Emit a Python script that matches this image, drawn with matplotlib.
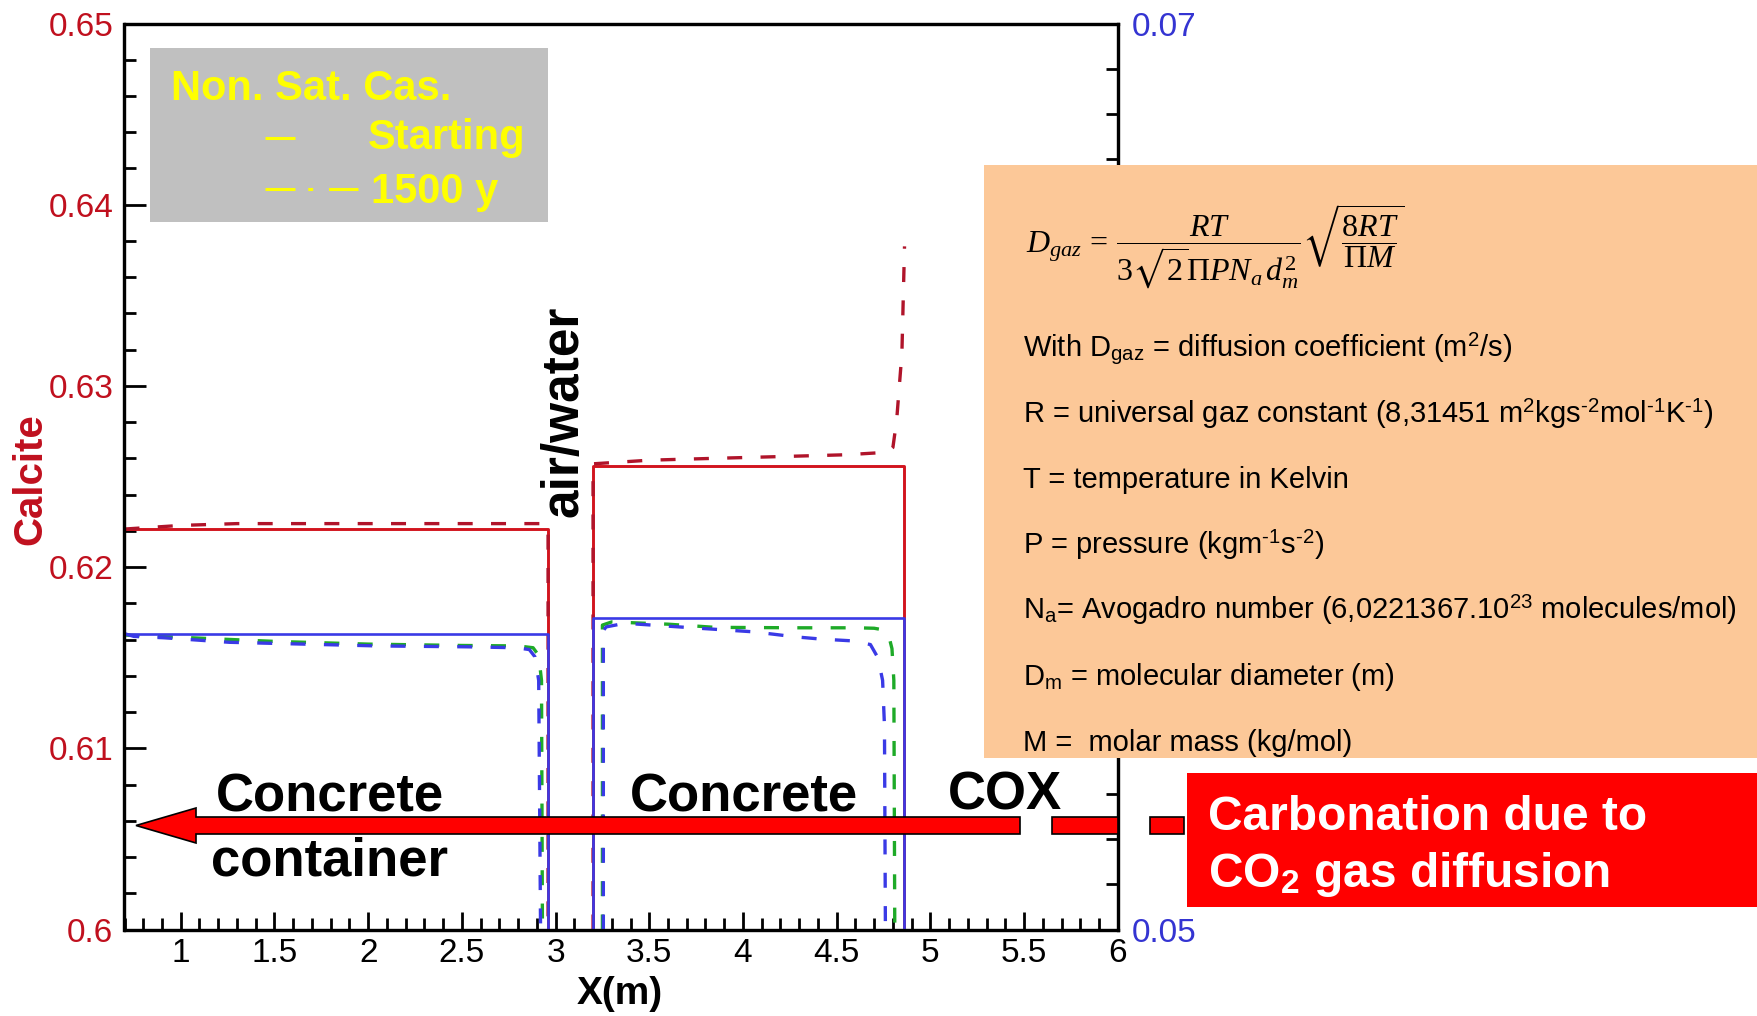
import numpy as np
import matplotlib.pyplot as plt
from matplotlib.patches import Rectangle, Polygon
from matplotlib.lines import Line2D
from matplotlib.ticker import MultipleLocator, FormatStrFormatter

plt.rcParams['font.family'] = ['Liberation Sans', 'DejaVu Sans']
plt.rcParams['mathtext.fontset'] = 'custom'
plt.rcParams['mathtext.rm'] = 'Liberation Serif'
plt.rcParams['mathtext.it'] = 'Liberation Serif:italic'
plt.rcParams['mathtext.bf'] = 'Liberation Sans:bold'
plt.rcParams['mathtext.sf'] = 'Liberation Sans'
plt.rcParams['mathtext.fallback'] = 'stix'

#-------------------------------------------------------------
#Profiles (x in m), calcite on left axis, other mineral on right axis
#-------------------------------------------------------------
red_start_left_x = [0.7, 2.96, 2.96]
red_start_left_y = [0.6221, 0.6221, 0.6]
red_start_right_x = [3.2, 3.2, 4.86, 4.86]
red_start_right_y = [0.6, 0.6256, 0.6256, 0.6]

red_1500_left_x = [0.7, 1.0, 1.3, 2.95, 2.96, 2.96]
red_1500_left_y = [0.6221, 0.6223, 0.6224, 0.6224, 0.6222, 0.6]
red_1500_right_x = [3.2, 3.2, 3.5, 3.84, 4.2, 4.55, 4.71, 4.78, 4.80, 4.82, 4.848, 4.862]
red_1500_right_y = [0.6, 0.6257, 0.6259, 0.6260, 0.6261, 0.6262, 0.6263, 0.6264, 0.6266, 0.6281, 0.6318, 0.6377]

blue_start_left_x = [0.7, 2.96, 2.96]
blue_start_left_y = [0.05653, 0.05653, 0.05]
blue_start_right_x = [3.2, 3.2, 4.86, 4.86]
blue_start_right_y = [0.05, 0.05688, 0.05688, 0.05]

blue_1500_left_x = [0.7, 0.75, 0.91, 1.26, 1.46, 2.05, 2.53, 2.79, 2.86, 2.89, 2.91, 2.92]
blue_1500_left_y = [0.05653, 0.05647, 0.05644, 0.05634, 0.05632, 0.05626, 0.05624, 0.05622, 0.05618, 0.05602, 0.0555, 0.05]
blue_1500_right_x = [3.255, 3.255, 3.27, 3.37, 3.73, 4.06, 4.28, 4.42, 4.59, 4.68, 4.72, 4.745, 4.755, 4.76]
blue_1500_right_y = [0.05, 0.0566, 0.05668, 0.05676, 0.05666, 0.05657, 0.05646, 0.05641, 0.05637, 0.05629, 0.0560, 0.0555, 0.0545, 0.05]

green_1500_left_x = [0.7, 1.0, 1.5, 2.0, 2.5, 2.8, 2.88, 2.91, 2.925, 2.93]
green_1500_left_y = [0.05650, 0.05645, 0.05636, 0.05630, 0.05627, 0.05626, 0.05622, 0.05605, 0.0555, 0.05]
green_1500_right_x = [3.25, 3.25, 3.3, 3.6, 3.85, 4.3, 4.61, 4.70, 4.755, 4.78, 4.795, 4.805, 4.81]
green_1500_right_y = [0.05, 0.05672, 0.05679, 0.05674, 0.05667, 0.05666, 0.05666, 0.05665, 0.05661, 0.05645, 0.0562, 0.0555, 0.05]

zone_labels = ['Concrete\ncontainer', 'Concrete', 'COX']
legend_labels = ['Starting', '1500 y']

formula = r'$D_{gaz}\,=\,\dfrac{RT}{3\sqrt{2}\Pi P N_a\, d_m^2}\sqrt{\dfrac{8RT}{\Pi M}}$'
# hyphen (U+2010) keeps the exponent signs short
notes = [r'With D$_{\mathsf{gaz}}$ = diffusion coefficient (m$^{\mathsf{2}}$/s)',
         'R = universal gaz constant (8,31451 m$^{\\mathsf{2}}$kgs$^{\\mathsf{\u20102}}$mol$^{\\mathsf{\u20101}}$K$^{\\mathsf{\u20101}}$)',
         'T = temperature in Kelvin',
         'P = pressure (kgm$^{\\mathsf{\u20101}}$s$^{\\mathsf{\u20102}}$)',
         r'N$_{\mathsf{a}}$= Avogadro number (6,0221367.10$^{\mathsf{23}}$ molecules/mol)',
         r'D$_{\mathsf{m}}$ = molecular diameter (m)',
         'M =  molar mass (kg/mol)']

#-------------------------------------------------------------
#Figure
#-------------------------------------------------------------
W, H = 1758, 1016
def fx(px):
    return px/W
def fy(py):
    return 1 - py/H

red_lab = '#c0101e'
blue_lab = '#3434d2'
c_red = '#d2141e'
c_red_d = '#b0142a'
c_blue = '#3a3ae6'
c_green = '#1eaa28'
dash = (0, (4.5, 5.5))

fig = plt.figure(figsize=(W/100, H/100), dpi=100)
ax = fig.add_axes([fx(124.5), fy(929.5), fx(1117.8-124.5), (929.5-23.5)/H])
ax2 = ax.twinx()

ax.plot(red_start_left_x, red_start_left_y, color=c_red, lw=2.1)
ax.plot(red_start_right_x, red_start_right_y, color=c_red, lw=2.1)
ax.plot(red_1500_left_x, red_1500_left_y, color=c_red_d, lw=2.4, ls=dash)
ax.plot(red_1500_right_x, red_1500_right_y, color=c_red_d, lw=2.4, ls=dash)

ax2.plot(green_1500_left_x, green_1500_left_y, color=c_green, lw=2.4, ls=dash)
ax2.plot(green_1500_right_x, green_1500_right_y, color=c_green, lw=2.4, ls=dash)
ax2.plot(blue_1500_left_x, blue_1500_left_y, color=c_blue, lw=2.4, ls=dash)
ax2.plot(blue_1500_right_x, blue_1500_right_y, color=c_blue, lw=2.4, ls=dash)
ax2.plot(blue_start_left_x, blue_start_left_y, color=c_blue, lw=1.9)
ax2.plot(blue_start_right_x, blue_start_right_y, color=c_blue, lw=1.9)

ax.set_xlim(0.7, 6)
ax.set_ylim(0.6, 0.65)
ax2.set_ylim(0.05, 0.07)

ax.xaxis.set_major_locator(MultipleLocator(0.5))
ax.xaxis.set_minor_locator(MultipleLocator(0.1))
ax.yaxis.set_major_locator(MultipleLocator(0.01))
ax.yaxis.set_minor_locator(MultipleLocator(0.002))
ax2.yaxis.set_major_locator(MultipleLocator(0.01))
ax2.yaxis.set_minor_locator(MultipleLocator(0.001))
for a in (ax.xaxis, ax.yaxis, ax2.yaxis):
    a.set_major_formatter(FormatStrFormatter('%g'))

ax.tick_params(axis='x', which='both', direction='in', top=False, width=2, labelsize=24, pad=6)
ax.tick_params(axis='x', which='major', length=13)
ax.tick_params(axis='x', which='minor', length=8.5)
ax.tick_params(axis='y', which='both', direction='in', right=False, width=2, labelsize=24, pad=8, labelcolor=red_lab)
ax.tick_params(axis='y', which='major', length=16)
ax.tick_params(axis='y', which='minor', length=8.5)
ax2.tick_params(axis='y', which='both', direction='in', width=2, labelsize=24, pad=10, labelcolor=blue_lab)
ax2.tick_params(axis='y', which='major', length=16)
ax2.tick_params(axis='y', which='minor', length=8.5)
for s in ax2.spines.values():
    s.set_linewidth(2.3)
for s in ax.spines.values():
    s.set_linewidth(2.3)

fig.text(fx(30), fy(479), 'Calcite', rotation=90, ha='center', va='center',
         fontsize=29, fontweight='bold', color=red_lab)
fig.text(fx(620), fy(994), 'X(m)', ha='center', va='center', fontsize=28, fontweight='bold')

#Legend box
fig.add_artist(Rectangle((fx(150), fy(222)), fx(398), 174/H, transform=fig.transFigure,
                         facecolor='#c0c0c0', edgecolor='none'))
fig.text(fx(171), fy(100), 'Non. Sat. Cas.', fontsize=30, fontweight='bold', color='yellow', va='baseline')
fig.text(fx(368), fy(149), legend_labels[0], fontsize=30, fontweight='bold', color='yellow', va='baseline')
fig.text(fx(371), fy(203), legend_labels[1], fontsize=30, fontweight='bold', color='yellow', va='baseline')
fig.add_artist(Line2D([fx(265), fx(295)], [fy(138), fy(138)], transform=fig.transFigure,
                      color='yellow', lw=2.2, solid_capstyle='butt'))
fig.add_artist(Line2D([fx(265), fx(358)], [fy(189), fy(189)], transform=fig.transFigure,
                      color='yellow', lw=2.2, dash_capstyle='butt', ls=(0, (9.8, 4.2, 1.6, 5.2))))

#Zone names and arrow
fig.text(fx(330), fy(812), 'Concrete', ha='center', va='baseline', fontsize=38, fontweight='bold')
fig.text(fx(330), fy(875), 'container', ha='center', va='baseline', fontsize=38, fontweight='bold')
fig.text(fx(744), fy(812), zone_labels[1], ha='center', va='baseline', fontsize=38, fontweight='bold')
fig.text(fx(1005), fy(810), zone_labels[2], ha='center', va='baseline', fontsize=38, fontweight='bold')
fig.text(fx(564), fy(411), 'air/water', rotation=90, ha='center', va='center', fontsize=37, fontweight='bold')

arrow_px = [(136, 825.5), (196, 808), (196, 817), (1020, 817), (1020, 834), (196, 834), (196, 843)]
fig.add_artist(Polygon([(fx(p[0]), fy(p[1])) for p in arrow_px], closed=True, transform=fig.transFigure,
                       facecolor='#ff0000', edgecolor='black', lw=1.2))
for x0, x1 in [(1052, 1118), (1150, 1184)]:
    fig.add_artist(Rectangle((fx(x0), fy(834)), fx(x1-x0), 17/H, transform=fig.transFigure,
                             facecolor='#ff0000', edgecolor='black', lw=1.2))

#Diffusion coefficient box
fig.add_artist(Rectangle((fx(984), fy(758)), fx(W-984), (758-165)/H, transform=fig.transFigure,
                         facecolor='#fcc898', edgecolor='none'))
fig.text(fx(1026), fy(247), formula, ha='left', va='center', fontsize=23)
for i, line in enumerate(notes):
    fig.text(fx(1023), fy(357 + 65.6*i), line, ha='left', va='baseline', fontsize=21)

#Carbonation box
fig.add_artist(Rectangle((fx(1187), fy(907)), fx(W-1187), (907-773)/H, transform=fig.transFigure,
                         facecolor='#ff0000', edgecolor='none'))
fig.text(fx(1208), fy(830), 'Carbonation due to', ha='left', va='baseline', fontsize=34.5,
         fontweight='bold', color='white')
fig.text(fx(1208), fy(887), r'CO$_{\mathbf{2}}$ gas diffusion', ha='left', va='baseline', fontsize=34.5,
         fontweight='bold', color='white')

fig.savefig('out.png', dpi=100)
